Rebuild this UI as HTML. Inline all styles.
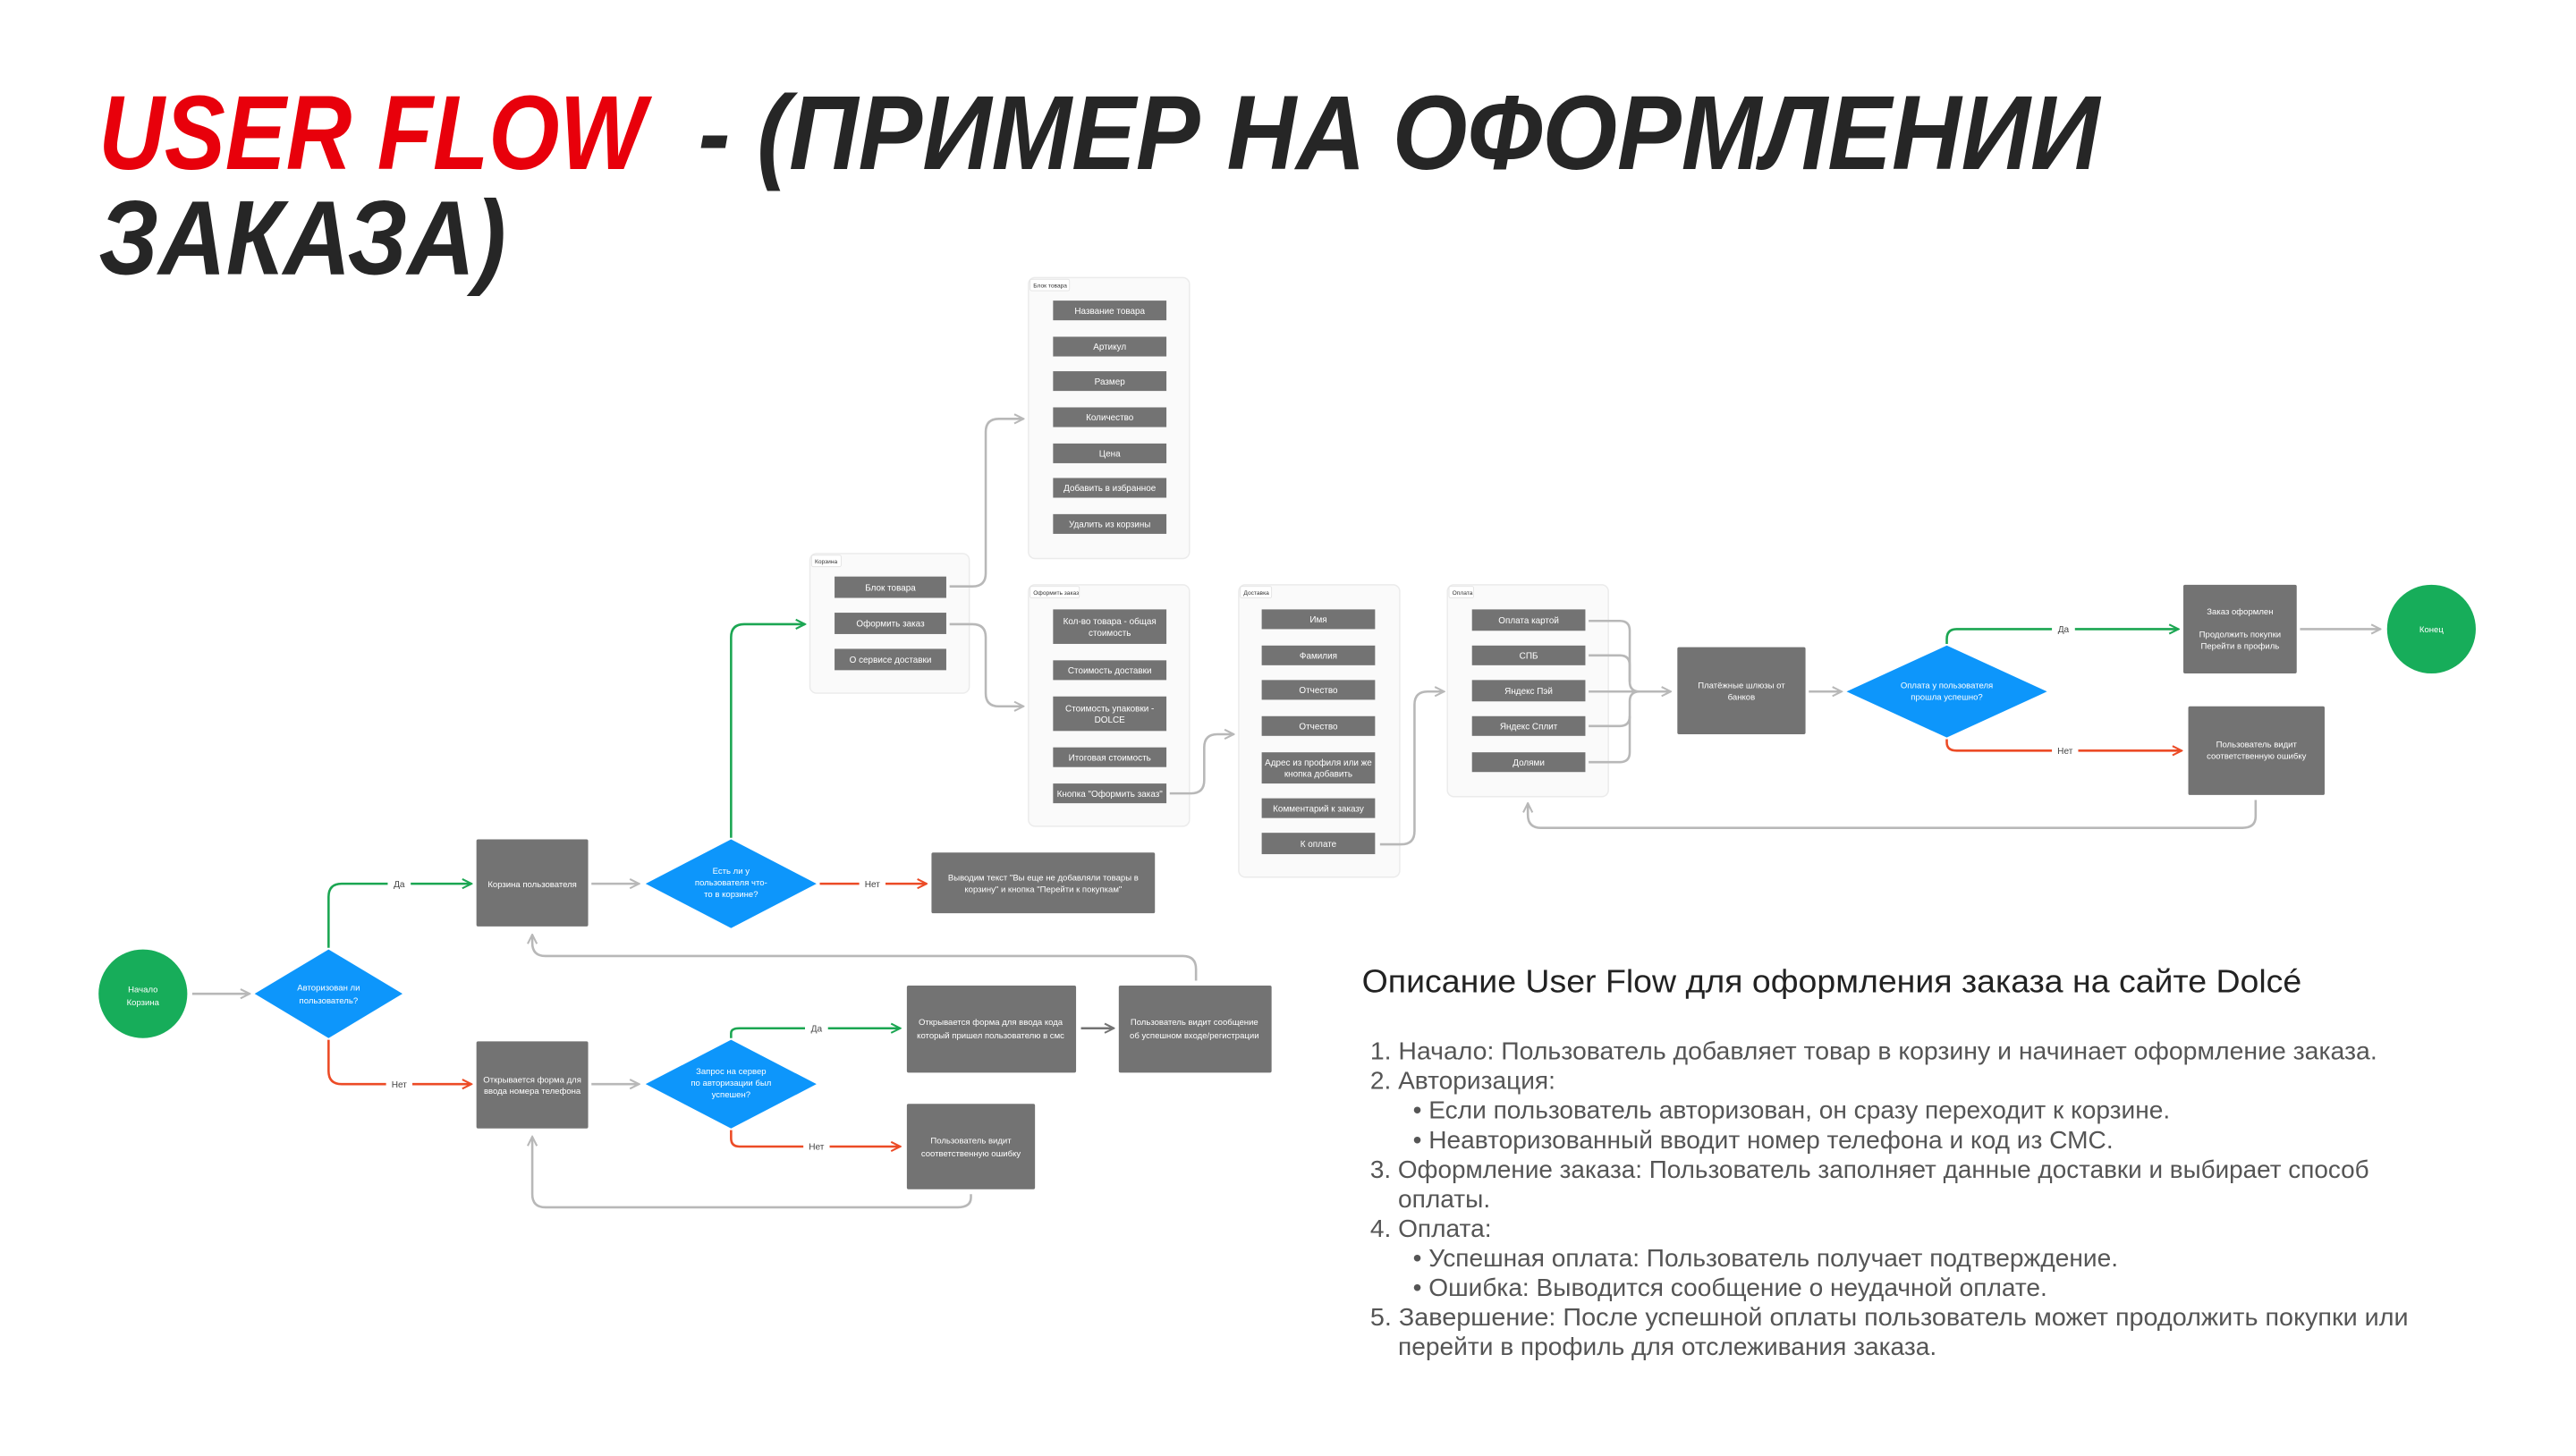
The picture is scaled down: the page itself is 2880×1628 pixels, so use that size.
<!DOCTYPE html>
<html><head><meta charset="utf-8"><style>
html,body{margin:0;padding:0;background:#fff;}
svg{display:block;}
text{font-family:"Liberation Sans",sans-serif;}
.n{fill:#fff;font-size:5.2px;text-anchor:middle;}
.i{fill:#fff;font-size:5.4px;text-anchor:middle;}
.lab{fill:#444;font-size:5.5px;text-anchor:middle;}
.box{fill:#737373;}
.cont{fill:#fafafa;stroke:#ebebeb;stroke-width:0.8;}
.tag{fill:#fff;stroke:#e3e3e3;stroke-width:0.5;}
.tagt{fill:#333;font-size:3.6px;}
.g{fill:none;stroke:#b8b8b8;stroke-width:1.4;}
.gr{fill:none;stroke:#1ba652;stroke-width:1.4;}
.rd{fill:none;stroke:#ec4b26;stroke-width:1.4;}
.dk{fill:none;stroke:#737373;stroke-width:1.4;}
.dia{fill:#0d96fb;}
.desc{fill:#555;font-size:15.3px;}
</style></head><body>
<svg width="2880" height="1628" viewBox="0 0 1568 886.4" preserveAspectRatio="none" xmlns="http://www.w3.org/2000/svg">
<defs>
<marker id="mg" viewBox="0 0 10 10" refX="9" refY="5" markerWidth="7" markerHeight="7" orient="auto" markerUnits="userSpaceOnUse"><path d="M1 1 L9 5 L1 9" fill="none" stroke="#b8b8b8" stroke-width="1.6"/></marker>
<marker id="mgr" viewBox="0 0 10 10" refX="9" refY="5" markerWidth="7" markerHeight="7" orient="auto" markerUnits="userSpaceOnUse"><path d="M1 1 L9 5 L1 9" fill="none" stroke="#1ba652" stroke-width="1.6"/></marker>
<marker id="mr" viewBox="0 0 10 10" refX="9" refY="5" markerWidth="7" markerHeight="7" orient="auto" markerUnits="userSpaceOnUse"><path d="M1 1 L9 5 L1 9" fill="none" stroke="#ec4b26" stroke-width="1.6"/></marker>
<marker id="md" viewBox="0 0 10 10" refX="9" refY="5" markerWidth="7" markerHeight="7" orient="auto" markerUnits="userSpaceOnUse"><path d="M1 1 L9 5 L1 9" fill="none" stroke="#737373" stroke-width="1.6"/></marker>
</defs>

<!-- Title -->
<text x="60" y="103" font-family="Liberation Mono" font-weight="bold" font-style="italic" font-size="64" fill="#e8000b" textLength="333" lengthAdjust="spacingAndGlyphs">USER FLOW</text>
<text x="425" y="103" font-family="Liberation Mono" font-weight="bold" font-style="italic" font-size="64" fill="#262626" textLength="853" lengthAdjust="spacingAndGlyphs">- (ПРИМЕР НА ОФОРМЛЕНИИ</text>
<text x="60" y="167" font-family="Liberation Mono" font-weight="bold" font-style="italic" font-size="64" fill="#262626" textLength="248" lengthAdjust="spacingAndGlyphs">ЗАКАЗА)</text>

<!-- Left flow -->
<circle cx="87" cy="605" r="27" fill="#17ad5a"/>
<text class="n" x="87" y="604">Начало</text><text class="n" x="87" y="612">Корзина</text>
<path class="g" d="M117 605 H152" marker-end="url(#mg)"/>
<polygon class="dia" points="200,578 245,605 200,632 155,605"/>
<text class="n" x="200" y="603">Авторизован ли</text><text class="n" x="200" y="611">пользователь?</text>

<path class="gr" d="M200 577 V546 Q200 538 208 538 H287" marker-end="url(#mgr)"/>
<rect x="236" y="534" width="14" height="8" fill="#fff"/><text class="lab" x="243" y="540">Да</text>
<path class="rd" d="M200 633 V652 Q200 660 208 660 H287" marker-end="url(#mr)"/>
<rect x="235" y="656" width="16" height="8" fill="#fff"/><text class="lab" x="243" y="662">Нет</text>

<rect class="box" x="290" y="511" width="68" height="53" rx="1"/>
<text class="n" x="324" y="540">Корзина пользователя</text>
<path class="g" d="M360 538 H389" marker-end="url(#mg)"/>
<polygon class="dia" points="445,511 497,538 445,565 393,538"/>
<text class="n" x="445" y="532">Есть ли у</text><text class="n" x="445" y="539">пользователя что-</text><text class="n" x="445" y="546">то в корзине?</text>
<path class="rd" d="M499 538 H564" marker-end="url(#mr)"/>
<rect x="523" y="534" width="16" height="8" fill="#fff"/><text class="lab" x="531" y="540">Нет</text>
<rect class="box" x="567" y="519" width="136" height="37" rx="1"/>
<text class="n" x="635" y="536">Выводим текст "Вы еще не добавляли товары в</text><text class="n" x="635" y="543">корзину" и кнопка "Перейти к покупкам"</text>

<path class="gr" d="M445 510 V388 Q445 380 453 380 H490" marker-end="url(#mgr)"/>

<path class="g" d="M728 597 V590 Q728 582 720 582 H332 Q324 582 324 574 V569" marker-end="url(#mg)"/>

<rect class="box" x="290" y="634" width="68" height="53" rx="1"/>
<text class="n" x="324" y="659">Открывается форма для</text><text class="n" x="324" y="666">ввода номера телефона</text>
<path class="g" d="M360 660 H389" marker-end="url(#mg)"/>
<polygon class="dia" points="445,633 497,660 445,687 393,660"/>
<text class="n" x="445" y="654">Запрос на сервер</text><text class="n" x="445" y="661">по авторизации был</text><text class="n" x="445" y="668">успешен?</text>
<path class="gr" d="M445 632 V629 Q445 626 450 626 H548" marker-end="url(#mgr)"/>
<rect x="490" y="622" width="14" height="8" fill="#fff"/><text class="lab" x="497" y="628">Да</text>
<path class="rd" d="M445 688 V693 Q445 698 450 698 H548" marker-end="url(#mr)"/>
<rect x="489" y="694" width="16" height="8" fill="#fff"/><text class="lab" x="497" y="700">Нет</text>

<rect class="box" x="552" y="600" width="103" height="53" rx="1"/>
<text class="n" x="603" y="624">Открывается форма для ввода кода</text><text class="n" x="603" y="632">который пришел пользователю в смс</text>
<path class="dk" d="M658 626 H678" marker-end="url(#md)"/>
<rect class="box" x="681" y="600" width="93" height="53" rx="1"/>
<text class="n" x="727" y="624">Пользователь видит сообщение</text><text class="n" x="727" y="632">об успешном входе/регистрации</text>

<rect class="box" x="552" y="672" width="78" height="52" rx="1"/>
<text class="n" x="591" y="696">Пользователь видит</text><text class="n" x="591" y="704">соответственную ошибку</text>
<path class="g" d="M591 727 V729 Q591 735 583 735 H332 Q324 735 324 727 V692" marker-end="url(#mg)"/>

<!-- Корзина container -->
<rect class="cont" x="493" y="337" width="97" height="85" rx="4"/>
<rect class="tag" x="494" y="338" width="18" height="7" rx="1"/><text class="tagt" x="496" y="343">Корзина</text>
<rect class="box" x="508" y="351" width="68" height="13"/><text class="i" x="542" y="359.5">Блок товара</text>
<rect class="box" x="508" y="373" width="68" height="13"/><text class="i" x="542" y="381.5">Оформить заказ</text>
<rect class="box" x="508" y="395" width="68" height="13"/><text class="i" x="542" y="403.5">О сервисе доставки</text>
<path class="g" d="M578 357 H592 Q600 357 600 349 V263 Q600 255 608 255 H623" marker-end="url(#mg)"/>
<path class="g" d="M578 380 H592 Q600 380 600 388 V422 Q600 430 608 430 H623" marker-end="url(#mg)"/>

<!-- Блок товара -->
<rect class="cont" x="626" y="169" width="98" height="171" rx="4"/>
<rect class="tag" x="627" y="170" width="24" height="7" rx="1"/><text class="tagt" x="629" y="175">Блок товара</text>
<rect class="box" x="641" y="183" width="69" height="12"/><text class="i" x="675.5" y="191">Название товара</text>
<rect class="box" x="641" y="205" width="69" height="12"/><text class="i" x="675.5" y="213">Артикул</text>
<rect class="box" x="641" y="226" width="69" height="12"/><text class="i" x="675.5" y="234">Размер</text>
<rect class="box" x="641" y="248" width="69" height="12"/><text class="i" x="675.5" y="256">Количество</text>
<rect class="box" x="641" y="270" width="69" height="12"/><text class="i" x="675.5" y="278">Цена</text>
<rect class="box" x="641" y="291" width="69" height="12"/><text class="i" x="675.5" y="299">Добавить в избранное</text>
<rect class="box" x="641" y="313" width="69" height="12"/><text class="i" x="675.5" y="321">Удалить из корзины</text>

<!-- Оформить заказ -->
<rect class="cont" x="626" y="356" width="98" height="147" rx="4"/>
<rect class="tag" x="627" y="357" width="30" height="7" rx="1"/><text class="tagt" x="629" y="362">Оформить заказ</text>
<rect class="box" x="641" y="371" width="69" height="21"/><text class="i" x="675.5" y="380">Кол-во товара - общая</text><text class="i" x="675.5" y="387">стоимость</text>
<rect class="box" x="641" y="402" width="69" height="12"/><text class="i" x="675.5" y="410">Стоимость доставки</text>
<rect class="box" x="641" y="424" width="69" height="21"/><text class="i" x="675.5" y="433">Стоимость упаковки -</text><text class="i" x="675.5" y="440">DOLCE</text>
<rect class="box" x="641" y="455" width="69" height="12"/><text class="i" x="675.5" y="463">Итоговая стоимость</text>
<rect class="box" x="641" y="477" width="69" height="12"/><text class="i" x="675.5" y="485">Кнопка "Оформить заказ"</text>
<path class="g" d="M712 483 H725 Q733 483 733 475 V455 Q733 447 741 447 H751" marker-end="url(#mg)"/>

<!-- Доставка -->
<rect class="cont" x="754" y="356" width="98" height="178" rx="4"/>
<rect class="tag" x="755" y="357" width="19" height="7" rx="1"/><text class="tagt" x="757" y="362">Доставка</text>
<rect class="box" x="768" y="371" width="69" height="12"/><text class="i" x="802.5" y="379">Имя</text>
<rect class="box" x="768" y="393" width="69" height="12"/><text class="i" x="802.5" y="401">Фамилия</text>
<rect class="box" x="768" y="414" width="69" height="12"/><text class="i" x="802.5" y="422">Отчество</text>
<rect class="box" x="768" y="436" width="69" height="12"/><text class="i" x="802.5" y="444">Отчество</text>
<rect class="box" x="768" y="458" width="69" height="19"/><text class="i" x="802.5" y="466">Адрес из профиля или же</text><text class="i" x="802.5" y="473">кнопка добавить</text>
<rect class="box" x="768" y="486" width="69" height="12"/><text class="i" x="802.5" y="494">Комментарий к заказу</text>
<rect class="box" x="768" y="507" width="69" height="13"/><text class="i" x="802.5" y="515.5">К оплате</text>
<path class="g" d="M840 514 H853 Q861 514 861 506 V429 Q861 421 869 421 H879" marker-end="url(#mg)"/>

<!-- Оплата -->
<rect class="cont" x="881" y="356" width="98" height="129" rx="4"/>
<rect class="tag" x="882" y="357" width="15" height="7" rx="1"/><text class="tagt" x="884" y="362">Оплата</text>
<rect class="box" x="896" y="371" width="69" height="13"/><text class="i" x="930.5" y="379.5">Оплата картой</text>
<rect class="box" x="896" y="393" width="69" height="12"/><text class="i" x="930.5" y="401">СПБ</text>
<rect class="box" x="896" y="414" width="69" height="13"/><text class="i" x="930.5" y="422.5">Яндекс Пэй</text>
<rect class="box" x="896" y="436" width="69" height="12"/><text class="i" x="930.5" y="444">Яндекс Сплит</text>
<rect class="box" x="896" y="458" width="69" height="12"/><text class="i" x="930.5" y="466">Долями</text>
<path class="g" d="M967 378 H986 Q992 378 992 384 V415 Q992 421 998 421"/>
<path class="g" d="M967 399 H986 Q992 399 992 405 V415"/>
<path class="g" d="M967 442 H986 Q992 442 992 436 V427 Q992 421 998 421"/>
<path class="g" d="M967 464 H986 Q992 464 992 458 V436"/>
<path class="g" d="M967 421 H1017" marker-end="url(#mg)"/>

<rect class="box" x="1021" y="394" width="78" height="53" rx="1"/>
<text class="n" x="1060" y="419">Платёжные шлюзы от</text><text class="n" x="1060" y="426">банков</text>
<path class="g" d="M1101 421 H1121" marker-end="url(#mg)"/>
<polygon class="dia" points="1185,393 1246,421 1185,449 1124,421"/>
<text class="n" x="1185" y="419">Оплата у пользователя</text><text class="n" x="1185" y="426">прошла успешно?</text>
<path class="gr" d="M1185 392 V389 Q1185 383 1191 383 H1326" marker-end="url(#mgr)"/>
<rect x="1249" y="379" width="14" height="8" fill="#fff"/><text class="lab" x="1256" y="385">Да</text>
<path class="rd" d="M1185 450 V452 Q1185 457 1191 457 H1328" marker-end="url(#mr)"/>
<rect x="1249" y="453" width="16" height="8" fill="#fff"/><text class="lab" x="1257" y="459">Нет</text>

<rect class="box" x="1329" y="356" width="69" height="54" rx="1"/>
<text class="n" x="1363.5" y="374">Заказ оформлен</text>
<text class="n" x="1363.5" y="388">Продолжить покупки</text><text class="n" x="1363.5" y="395">Перейти в профиль</text>
<path class="g" d="M1400 383 H1449" marker-end="url(#mg)"/>
<circle cx="1480" cy="383" r="27" fill="#17ad5a"/>
<text class="n" x="1480" y="385">Конец</text>

<rect class="box" x="1332" y="430" width="83" height="54" rx="1"/>
<text class="n" x="1373.5" y="455">Пользователь видит</text><text class="n" x="1373.5" y="462">соответственную ошибку</text>
<path class="g" d="M1373 487 V497 Q1373 504 1365 504 H938 Q930 504 930 496 V489" marker-end="url(#mg)"/>

<!-- Description -->
<text x="829" y="604" font-size="19.5" fill="#222" textLength="572" lengthAdjust="spacingAndGlyphs">Описание User Flow для оформления заказа на сайте Dolcé</text>
<g class="desc">
<text x="834" y="645" textLength="613" lengthAdjust="spacingAndGlyphs">1. Начало: Пользователь добавляет товар в корзину и начинает оформление заказа.</text>
<text x="834" y="663">2. Авторизация:</text>
<text x="860" y="681">•  Если пользователь авторизован, он сразу переходит к корзине.</text>
<text x="860" y="699">•  Неавторизованный вводит номер телефона и код из СМС.</text>
<text x="834" y="717" textLength="608" lengthAdjust="spacingAndGlyphs">3. Оформление заказа: Пользователь заполняет данные доставки и выбирает способ</text>
<text x="851" y="735">оплаты.</text>
<text x="834" y="753">4. Оплата:</text>
<text x="860" y="771">•  Успешная оплата: Пользователь получает подтверждение.</text>
<text x="860" y="789">•  Ошибка: Выводится сообщение о неудачной оплате.</text>
<text x="834" y="807" textLength="632" lengthAdjust="spacingAndGlyphs">5. Завершение: После успешной оплаты пользователь может продолжить покупки или</text>
<text x="851" y="825">перейти в профиль для отслеживания заказа.</text>
</g>
</svg>
</body></html>
